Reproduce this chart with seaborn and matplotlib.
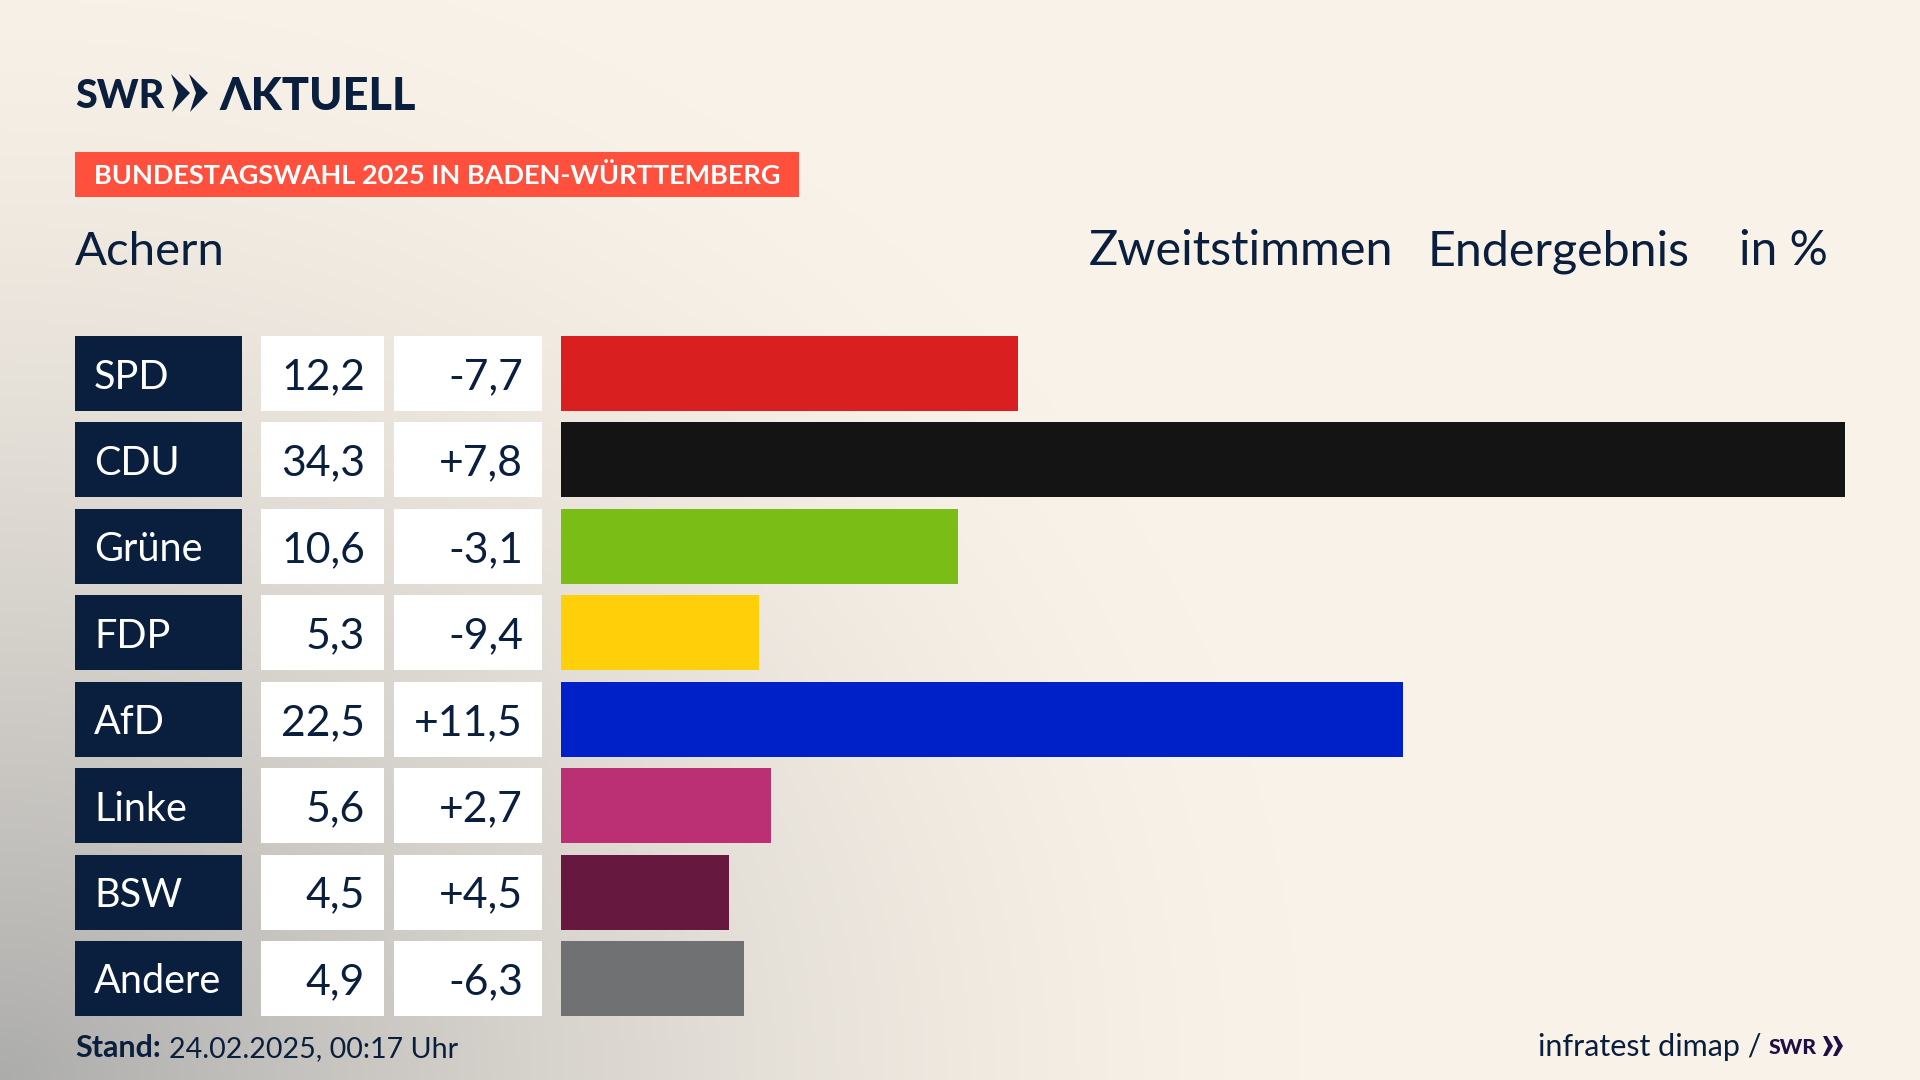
import numpy as np
import seaborn as sns
import matplotlib.pyplot as plt
from matplotlib.patches import Rectangle, Polygon
from matplotlib.transforms import blended_transform_factory

parties = ["SPD", "CDU", "Grüne", "FDP", "AfD", "Linke", "BSW", "Andere"]
shares = [12.2, 34.3, 10.6, 5.3, 22.5, 5.6, 4.5, 4.9]
share_labels = ["12,2", "34,3", "10,6", "5,3", "22,5", "5,6", "4,5", "4,9"]
diff_labels = ["-7,7", "+7,8", "-3,1", "-9,4", "+11,5", "+2,7", "+4,5", "-6,3"]
colors = ["#D91F1F", "#141414", "#7ABD17", "#FFCF0A", "#0020C8", "#BB3074", "#67183E", "#707173"]

NAVY = "#0A1F3D"
CREAM = np.array([249, 242, 232]) / 255
GREY = np.array([172, 172, 171]) / 255

sns.set_theme(style="white")
plt.rcParams["font.family"] = ["Lato", "DejaVu Sans"]

fig = plt.figure(figsize=(19.2, 10.8), dpi=100)

# full figure axes in pixels, for the backdrop and the header/footer
bg = fig.add_axes([0, 0, 1, 1])
bg.set_xlim(0, 1920)
bg.set_ylim(1080, 0)
bg.axis("off")

# soft grey shade coming out of the lower left corner
xx, yy = np.meshgrid(np.arange(0, 1920, 4), np.arange(0, 1080, 4))
d = np.sqrt((xx / 1300) ** 2 + ((1080 - yy) / 1150) ** 2)
shade = np.clip(1 - d, 0, 1)[..., None] ** 1.5
bg.imshow(CREAM + (GREY - CREAM) * shade, extent=(0, 1920, 1080, 0), aspect="auto", zorder=0)

# logo
bg.text(75, 108, "SWR", fontsize=28.5, fontweight="black", color=NAVY, va="baseline")
for x0 in (171, 189):
    bg.add_patch(Polygon([(x0, 74), (x0 + 19, 93), (x0 + 1, 112), (x0 + 7, 93)], color=NAVY, lw=0))
bg.text(219, 110, "ΛKTUELL", fontsize=32.5, fontweight="black", color=NAVY, va="baseline")

# red tag
bg.add_patch(Rectangle((75, 152), 724, 45, color="#FF4F3D", lw=0))
bg.text(94, 184, "BUNDESTAGSWAHL 2025 IN BADEN-WÜRTTEMBERG", fontsize=19.5, fontweight="bold", color="white", va="baseline")

# header line
bg.text(75, 265, "Achern", fontsize=34, color=NAVY, va="baseline")
bg.text(1089, 265, "Zweitstimmen", fontsize=35, color=NAVY, va="baseline")
bg.text(1428, 265, "Endergebnis", fontsize=34.8, color=NAVY, va="baseline")
bg.text(1739, 265, "in %", fontsize=34.5, color=NAVY, va="baseline")

# footer
bg.text(75, 1057, "Stand:", fontsize=22, fontweight="bold", color=NAVY, va="baseline")
bg.text(169, 1057, "24.02.2025, 00:17 Uhr", fontsize=20.6, color=NAVY, va="baseline")
bg.text(1538, 1056, "infratest dimap /", fontsize=22, color=NAVY, va="baseline")
bg.text(1769, 1054, "SWR", fontsize=15.3, fontweight="black", color="#1F0F47", va="baseline")
for x0 in (1823, 1833):
    bg.add_patch(Polygon([(x0, 1036), (x0 + 4, 1036), (x0 + 10, 1046), (x0 + 4, 1056), (x0, 1056), (x0 + 5, 1046)], color="#1F0F47", lw=0))

# bars, axes spans exactly the bar area
ax = fig.add_axes([561 / 1920, 1 - 1016 / 1080, (1845 - 561) / 1920, (1016 - 336) / 1080])
ax.patch.set_visible(False)
sns.barplot(x=shares, y=parties, hue=parties, palette=colors, saturation=1, width=0.868, linewidth=0, legend=False, ax=ax)
ax.set_xlim(0, max(shares))
ax.set_ylim(7.434, -0.434)
ax.axis("off")

# table columns left of the bars: x in figure pixels, y in row units
px = blended_transform_factory(bg.transData, ax.transData)
for i, party in enumerate(parties):
    for x0, x1, c in [(75, 242, NAVY), (261, 384, "white"), (394, 542, "white")]:
        ax.add_patch(Rectangle((x0, i - 0.434), x1 - x0, 0.868, color=c, lw=0, transform=px, clip_on=False))
    ax.text(94, i, party, fontsize=28.5, color="white", va="center_baseline", transform=px)
    ax.text(365, i, share_labels[i], fontsize=30.8, color=NAVY, ha="right", va="center_baseline", transform=px)
    ax.text(523, i, diff_labels[i], fontsize=30.8, color=NAVY, ha="right", va="center_baseline", transform=px)

fig.savefig("out.png", dpi=100)
